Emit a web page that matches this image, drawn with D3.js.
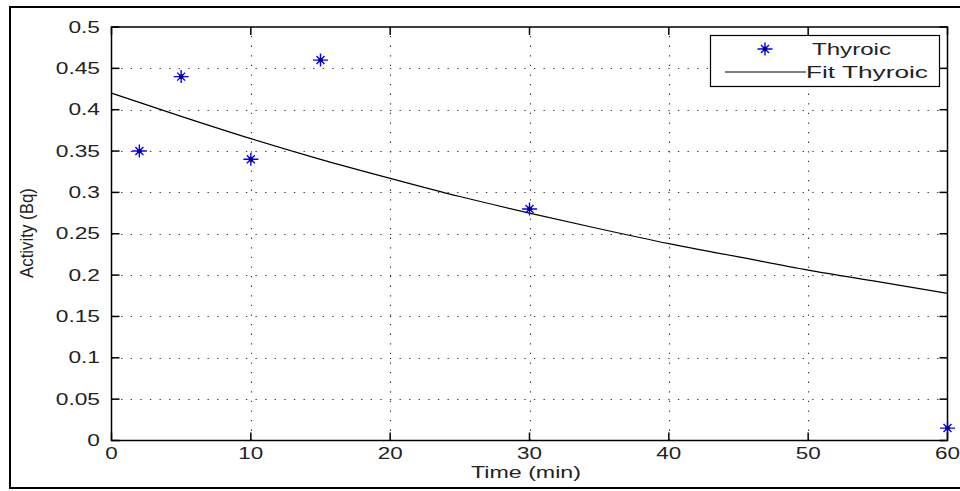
<!DOCTYPE html>
<html><head><meta charset="utf-8">
<script src="https://cdn.jsdelivr.net/npm/d3@7"></script>
<style>
body{margin:0;background:#fff;}
svg{display:block;font-family:"Liberation Sans",Arial,sans-serif;}
</style></head>
<body>
<svg id="c" width="960" height="491"></svg>
<script>
const times = [2, 5, 10, 15, 30, 60];
const activity = [0.35, 0.44, 0.34, 0.46, 0.28, 0.015];
const fitTimes = [0, 5, 10, 15, 20, 25, 30, 35, 40, 45, 50, 55, 60];
const fitValues = [0.42, 0.392, 0.365, 0.340, 0.317, 0.295, 0.275, 0.256, 0.238, 0.222, 0.206, 0.192, 0.178];
const xTicks = [0, 10, 20, 30, 40, 50, 60];
const yTicks = [0, 0.05, 0.1, 0.15, 0.2, 0.25, 0.3, 0.35, 0.4, 0.45, 0.5];
const seriesNames = ["Thyroic", "Fit Thyroic"];

const svg = d3.select("#c");
const L = 111.5, R = 947.5, T = 27, B = 440.5;
const x = d3.scaleLinear().domain([0, 60]).range([L, R]);
const y = d3.scaleLinear().domain([0, 0.5]).range([B, T]);

function stretch(sel, f) {
  sel.each(function () {
    const w = this.getComputedTextLength();
    d3.select(this).attr("textLength", w * f).attr("lengthAdjust", "spacingAndGlyphs");
  });
}

// outer frame
svg.append("rect").attr("x", 10).attr("y", 7).attr("width", 960).attr("height", 481)
  .attr("fill", "none").attr("stroke", "#000").attr("stroke-width", 2);

// grid
const grid = svg.append("g").attr("stroke", "#333").attr("stroke-width", 1.1)
  .attr("stroke-dasharray", "1.3,8.3").attr("fill", "none");
grid.selectAll(".gx").data(xTicks.slice(1, -1)).join("line")
  .attr("x1", d => Math.round(x(d)) + 0.5).attr("x2", d => Math.round(x(d)) + 0.5)
  .attr("y1", B).attr("y2", T);
grid.selectAll(".gy").data(yTicks.slice(1, -1)).join("line")
  .attr("y1", d => Math.round(y(d)) + 0.5).attr("y2", d => Math.round(y(d)) + 0.5)
  .attr("x1", L).attr("x2", R);

// axes
const tl = 8;
const ax = svg.append("g").attr("stroke", "#000").attr("stroke-width", 1.5).attr("fill", "none");
ax.append("rect").attr("x", L).attr("y", T).attr("width", R - L).attr("height", B - T);
xTicks.forEach(d => {
  const px = x(d);
  ax.append("line").attr("x1", px).attr("x2", px).attr("y1", B).attr("y2", B - tl);
  ax.append("line").attr("x1", px).attr("x2", px).attr("y1", T).attr("y2", T + tl);
});
yTicks.forEach(d => {
  const py = y(d);
  ax.append("line").attr("y1", py).attr("y2", py).attr("x1", L).attr("x2", L + tl);
  ax.append("line").attr("y1", py).attr("y2", py).attr("x1", R).attr("x2", R - tl);
});

// tick labels
const fmt = d => String(+d.toFixed(2));
const xl = svg.append("g").selectAll("text").data(xTicks).join("text")
  .attr("x", d => x(d)).attr("y", B + 18).attr("text-anchor", "middle")
  .attr("font-size", 16).attr("fill", "#222").text(fmt);
stretch(xl, 1.4);
const yl = svg.append("g").selectAll("text").data(yTicks).join("text")
  .attr("x", 100).attr("y", d => y(d) + 5.5).attr("text-anchor", "end")
  .attr("font-size", 16).attr("fill", "#222").text(fmt);
stretch(yl, 1.42);

// axis labels
const xt = svg.append("text").attr("x", 526).attr("y", 478).attr("text-anchor", "middle")
  .attr("font-size", 16).attr("fill", "#222").text("Time (min)");
stretch(xt, 1.45);
svg.append("text").attr("transform", `translate(33,233) rotate(-90)`)
  .attr("text-anchor", "middle").attr("font-size", 17.5).attr("fill", "#222")
  .attr("textLength", 90).attr("lengthAdjust", "spacingAndGlyphs").text("Activity (Bq)");

// fit line
svg.append("path").datum(fitTimes.map((t, i) => [t, fitValues[i]]))
  .attr("d", d3.line().x(d => x(d[0])).y(d => y(d[1])).curve(d3.curveMonotoneX))
  .attr("fill", "none").attr("stroke", "#000").attr("stroke-width", 1.2);

// star marker
function star(g, cx, cy) {
  const h = 7.5, v = 6.5, dg = 4;
  g.append("path")
    .attr("d", `M${cx - h},${cy}H${cx + h}M${cx},${cy - v}V${cy + v}M${cx - dg},${cy - dg}L${cx + dg},${cy + dg}M${cx - dg},${cy + dg}L${cx + dg},${cy - dg}`)
    .attr("stroke", "#0000ff").attr("stroke-width", 1.4).attr("fill", "none");
  g.append("circle").attr("cx", cx).attr("cy", cy).attr("r", 2.4).attr("fill", "#00008b");
}
const pts = svg.append("g");
times.forEach((t, i) => star(pts, x(t), y(activity[i])));

// legend
const lg = svg.append("g");
lg.append("rect").attr("x", 710.5).attr("y", 35.5).attr("width", 229).attr("height", 51)
  .attr("fill", "#fff").attr("stroke", "#000").attr("stroke-width", 1.2);
star(lg, 765, 49);
lg.append("line").attr("x1", 725).attr("x2", 806).attr("y1", 72).attr("y2", 72)
  .attr("stroke", "#000").attr("stroke-width", 1.2);
const t1 = lg.append("text").attr("x", 812).attr("y", 55).attr("font-size", 16).attr("fill", "#222").text(seriesNames[0]);
const t2 = lg.append("text").attr("x", 806).attr("y", 78).attr("font-size", 16).attr("fill", "#222").text(seriesNames[1]);
t1.attr("textLength", 79).attr("lengthAdjust", "spacingAndGlyphs");
t2.attr("textLength", 122).attr("lengthAdjust", "spacingAndGlyphs");
</script>
</body></html>
